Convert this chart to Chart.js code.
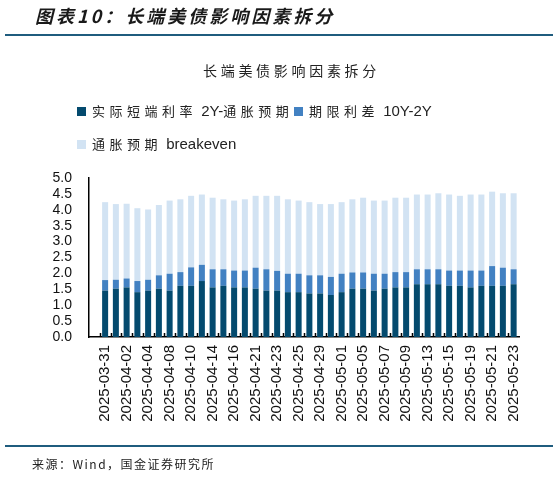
<!DOCTYPE html>
<html>

<head>
    <meta charset="UTF-8">
    <title>长端美债影响因素拆分</title>
    <script src="https://cdn.jsdelivr.net/npm/chart.js"></script>
    <style>
        body {
            margin: 0;
            background-color: #ffffff;
            font-family: 'Liberation Sans', 'Noto Sans CJK SC', sans-serif;
        }

        .page {
            position: relative;
            width: 559px;
            height: 478px;
            overflow: hidden;
        }

        .heading {
            position: absolute;
            left: 35px;
            top: 3px;
            font-family: 'Noto Sans CJK SC', sans-serif;
            font-size: 18px;
            font-weight: bold;
            font-style: italic;
            letter-spacing: 3px;
            color: #1a1a1a;
            line-height: 24px;
        }

        .rule {
            position: absolute;
            left: 5px;
            width: 548px;
            height: 2px;
            background-color: #1f5c7e;
        }

        .chart-title {
            position: absolute;
            left: 203px;
            top: 60px;
            font-family: 'Noto Sans CJK SC', sans-serif;
            font-size: 14px;
            letter-spacing: 3.7px;
            color: #222222;
            line-height: 20px;
        }

        .legend-item {
            position: absolute;
            font-size: 15px;
            color: #222222;
            line-height: 18px;
            white-space: nowrap;
        }

        /* chinese part of the legend is spaced out, latin part is not */
        .legend-item .cjk {
            font-family: 'Noto Sans CJK SC', sans-serif;
            font-size: 13px;
            letter-spacing: 4.5px;
        }

        .legend-item i {
            position: absolute;
            left: -15px;
            top: 5px;
            width: 9px;
            height: 9px;
        }

        .source {
            position: absolute;
            left: 32px;
            top: 455px;
            font-family: 'Noto Sans CJK SC', sans-serif;
            font-size: 12px;
            letter-spacing: 1.5px;
            color: #222222;
            line-height: 18px;
        }

        #chartBox {
            position: absolute;
            left: 0;
            top: 0;
            width: 559px;
            height: 478px;
        }
    </style>
</head>

<body>
    <div class="page">
        <div id="chartBox"><canvas id="factorChart"></canvas></div>

        <div class="heading">图表10：长端美债影响因素拆分</div>
        <div class="rule" style="top: 34px;"></div>
        <div class="chart-title">长端美债影响因素拆分</div>

        <!-- legend drawn as html so the rows line up like the original -->
        <div class="legend-item" style="left: 92px; top: 102px;"><i style="background: #044a6e;"></i><span class="cjk">实际短端利率</span> 2Y-<span class="cjk">通胀预期</span></div>
        <div class="legend-item" style="left: 309px; top: 102px;"><i style="background: #4281c2;"></i><span class="cjk">期限利差</span> 10Y-2Y</div>
        <div class="legend-item" style="left: 92px; top: 135px;"><i style="background: #d2e3f3;"></i><span class="cjk">通胀预期</span> breakeven</div>

        <div class="rule" style="top: 445px;"></div>
        <div class="source">来源：Wind，国金证券研究所</div>
    </div>

    <script>
        // trading days, 2025-03-31 .. 2025-05-23
        var dates = ['2025-03-31', '2025-04-01', '2025-04-02', '2025-04-03', '2025-04-04',
            '2025-04-07', '2025-04-08', '2025-04-09', '2025-04-10', '2025-04-11',
            '2025-04-14', '2025-04-15', '2025-04-16', '2025-04-17', '2025-04-21',
            '2025-04-22', '2025-04-23', '2025-04-24', '2025-04-25', '2025-04-28',
            '2025-04-29', '2025-04-30', '2025-05-01', '2025-05-02', '2025-05-05',
            '2025-05-06', '2025-05-07', '2025-05-08', '2025-05-09', '2025-05-12',
            '2025-05-13', '2025-05-14', '2025-05-15', '2025-05-16', '2025-05-19',
            '2025-05-20', '2025-05-21', '2025-05-22', '2025-05-23'];

        // 实际短端利率 2Y-通胀预期
        var realShortRate = [1.46, 1.52, 1.56, 1.41, 1.46, 1.52, 1.46, 1.61, 1.61, 1.76,
            1.56, 1.61, 1.56, 1.56, 1.52, 1.46, 1.46, 1.41, 1.41, 1.37,
            1.37, 1.32, 1.41, 1.52, 1.52, 1.46, 1.52, 1.56, 1.56, 1.66,
            1.66, 1.66, 1.61, 1.61, 1.56, 1.61, 1.61, 1.61, 1.66];

        // 期限利差 10Y-2Y
        var termSpread = [0.33, 0.28, 0.28, 0.35, 0.34, 0.42, 0.53, 0.43, 0.58, 0.51,
            0.57, 0.52, 0.53, 0.53, 0.66, 0.67, 0.62, 0.58, 0.58, 0.57,
            0.57, 0.57, 0.58, 0.51, 0.51, 0.53, 0.47, 0.48, 0.48, 0.47,
            0.47, 0.47, 0.48, 0.48, 0.53, 0.48, 0.62, 0.57, 0.47];

        // 通胀预期 breakeven
        var breakeven = [2.45, 2.38, 2.35, 2.29, 2.21, 2.21, 2.30, 2.29, 2.25, 2.21,
            2.25, 2.20, 2.20, 2.24, 2.26, 2.31, 2.36, 2.34, 2.30, 2.30,
            2.24, 2.29, 2.25, 2.30, 2.35, 2.30, 2.30, 2.34, 2.34, 2.35,
            2.35, 2.39, 2.39, 2.35, 2.39, 2.39, 2.34, 2.34, 2.39];

        var yTicks = [0, 0.5, 1, 1.5, 2, 2.5, 3, 3.5, 4, 4.5, 5];

        // the original leaves one empty slot before the first date
        var labels = [''].concat(dates);
        function padded(arr) { return [null].concat(arr); }

        // small inward tick marks on the category boundaries
        var boundaryTicks = {
            id: 'boundaryTicks',
            afterDraw: function (chart) {
                var xs = chart.scales.x;
                var ctx = chart.ctx;
                var y0 = chart.chartArea.bottom;
                var step = xs.getPixelForValue(1) - xs.getPixelForValue(0);
                ctx.save();
                ctx.strokeStyle = '#000000';
                ctx.lineWidth = 1.5;
                ctx.beginPath();
                for (var i = 1; i < labels.length; i++) {
                    var x = Math.round(xs.getPixelForValue(i) - step / 2) + 0.5;
                    ctx.moveTo(x, y0);
                    ctx.lineTo(x, y0 - 4);
                }
                ctx.stroke();
                ctx.restore();
            }
        };

        var ctx = document.getElementById('factorChart').getContext('2d');
        var factorChart = new Chart(ctx, {
            type: 'bar',
            data: {
                labels: labels,
                datasets: [{
                    label: '实际短端利率 2Y-通胀预期',
                    data: padded(realShortRate),
                    backgroundColor: '#044a6e'
                }, {
                    label: '期限利差 10Y-2Y',
                    data: padded(termSpread),
                    backgroundColor: '#4281c2'
                }, {
                    label: '通胀预期 breakeven',
                    data: padded(breakeven),
                    backgroundColor: '#d2e3f3'
                }]
            },
            plugins: [boundaryTicks],
            options: {
                responsive: true,
                maintainAspectRatio: false,
                animation: false,
                datasets: {
                    bar: {
                        barPercentage: 0.56,
                        categoryPercentage: 1.0
                    }
                },
                layout: {
                    padding: { top: 178, right: 40, bottom: 41, left: 0 }
                },
                plugins: {
                    legend: { display: false },
                    tooltip: { enabled: false }
                },
                scales: {
                    x: {
                        stacked: true,
                        offset: true,
                        grid: { display: false, drawTicks: false },
                        border: { display: true, color: '#000000', width: 1.5 },
                        ticks: {
                            autoSkip: false,
                            minRotation: 90,
                            maxRotation: 90,
                            padding: 8,
                            color: '#111111',
                            font: { family: 'Liberation Sans', size: 15 },
                            callback: function (value, index) {
                                // every other trading day gets a label
                                return index % 2 === 1 ? labels[index] : '';
                            }
                        },
                        afterFit: function (scale) { scale.height = 100; }
                    },
                    y: {
                        stacked: true,
                        min: 0,
                        max: 5,
                        grid: { display: false, drawTicks: false },
                        border: { display: true, color: '#000000', width: 1.5 },
                        afterBuildTicks: function (scale) {
                            scale.ticks = yTicks.map(function (v) { return { value: v }; });
                        },
                        ticks: {
                            autoSkip: false,
                            padding: 17,
                            color: '#111111',
                            font: { family: 'Liberation Sans', size: 14 },
                            callback: function (value) { return value.toFixed(1); }
                        },
                        afterFit: function (scale) { scale.width = 89; }
                    }
                }
            }
        });
    </script>
</body>

</html>
